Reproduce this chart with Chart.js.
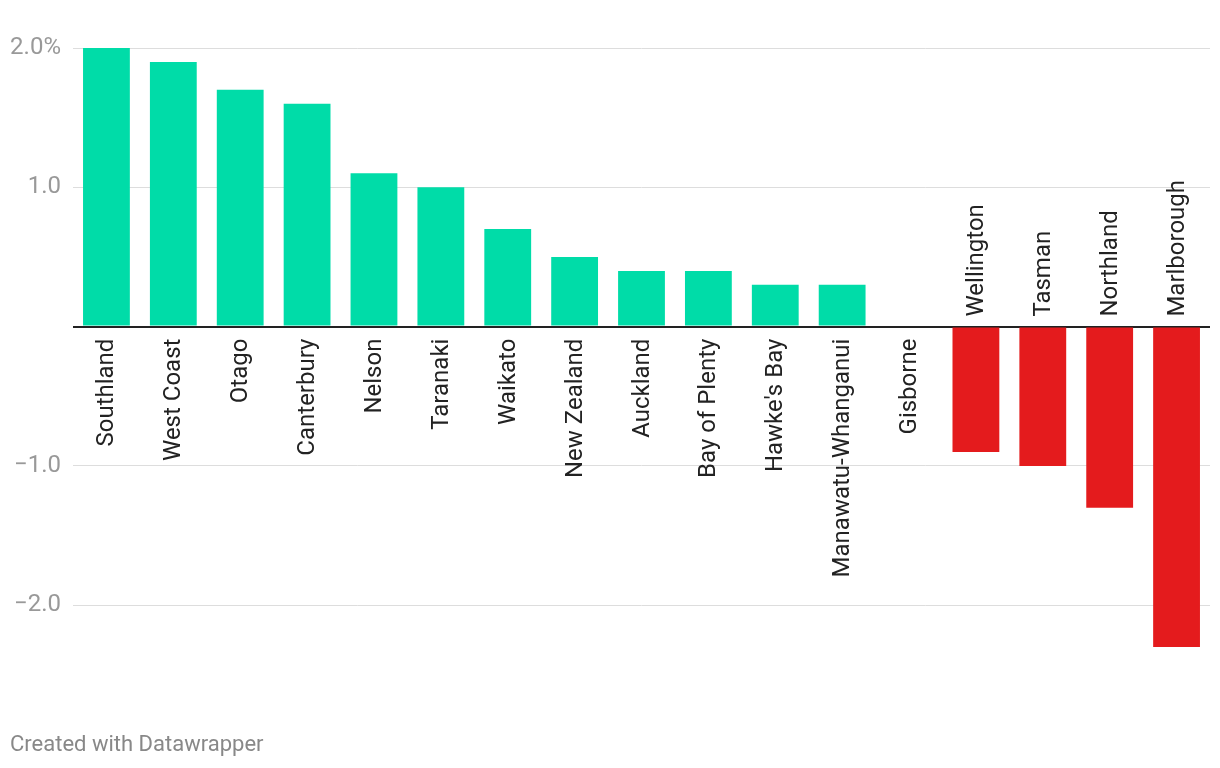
<!DOCTYPE html>
<html>
<head>
<meta charset="utf-8">
<script src="https://cdn.jsdelivr.net/npm/chart.js@4/dist/chart.umd.min.js"></script>
<style>
  html, body { margin: 0; padding: 0; background: #fff; }
  #wrap { position: relative; width: 1220px; height: 768px; }
  #footer { position: absolute; left: 10px; top: 731px; font: 22px Roboto, sans-serif; color: #888; }
</style>
</head>
<body>
<div id="wrap">
  <canvas id="barChart" width="1220" height="768"></canvas>
  <div id="footer">Created with Datawrapper</div>
</div>
<script>
// regions, sorted by change (%)
const regions = ['Southland', 'West Coast', 'Otago', 'Canterbury', 'Nelson', 'Taranaki', 'Waikato',
  'New Zealand', 'Auckland', 'Bay of Plenty', "Hawke's Bay", 'Manawatu-Whanganui', 'Gisborne',
  'Wellington', 'Tasman', 'Northland', 'Marlborough'];
const changes = [2.0, 1.9, 1.7, 1.6, 1.1, 1.0, 0.7, 0.5, 0.4, 0.4, 0.3, 0.3, 0, -0.9, -1.0, -1.3, -2.3];
const yTicks = [-2, -1, 0, 1, 2];

const green = '#00dca8';
const red = '#e41b1d';

// category labels sit next to the zero line, on the opposite side of the bar
const regionLabels = {
  id: 'regionLabels',
  afterDatasetsDraw(chart) {
    const ctx = chart.ctx;
    const xs = chart.scales.x, ys = chart.scales.y;
    const zero = ys.getPixelForValue(0);
    ctx.save();
    ctx.font = '24px Roboto, sans-serif';
    ctx.fillStyle = '#222';
    ctx.textBaseline = 'middle';
    regions.forEach((name, i) => {
      const x = xs.getPixelForValue(i);
      ctx.save();
      if (changes[i] >= 0) {
        ctx.translate(x, zero + 12);
        ctx.rotate(-Math.PI / 2);
        ctx.textAlign = 'right';
      } else {
        ctx.translate(x, zero - 10);
        ctx.rotate(-Math.PI / 2);
        ctx.textAlign = 'left';
      }
      ctx.fillText(name, 0, 1);
      ctx.restore();
    });
    ctx.restore();
  }
};

new Chart(document.getElementById('barChart').getContext('2d'), {
  type: 'bar',
  data: {
    labels: regions,
    datasets: [{
      data: changes,
      backgroundColor: changes.map(v => v < 0 ? red : green),
      categoryPercentage: 1,
      barPercentage: 0.7
    }]
  },
  options: {
    responsive: false,
    animation: false,
    layout: { padding: { top: 48, right: 10, bottom: 121, left: 0 } },
    plugins: { legend: { display: false }, tooltip: { enabled: false } },
    scales: {
      x: { display: false },
      y: {
        min: -2.3,
        max: 2.0,
        afterBuildTicks: scale => { scale.ticks = yTicks.map(v => ({ value: v })); },
        afterFit: scale => { scale.width = 73; },
        border: { display: false },
        grid: {
          drawTicks: false,
          color: c => c.tick.value === 0 ? '#222' : '#dddddd',
          lineWidth: c => c.tick.value === 0 ? 2 : 1
        },
        ticks: {
          padding: 12,
          color: '#999',
          font: { family: 'Roboto', size: 24 },
          callback: v => v === 2 ? '2.0%' : (v === 0 ? '' : (v < 0 ? '\u2212' + Math.abs(v).toFixed(1) : v.toFixed(1)))
        }
      }
    }
  },
  plugins: [regionLabels]
});
</script>
</body>
</html>
